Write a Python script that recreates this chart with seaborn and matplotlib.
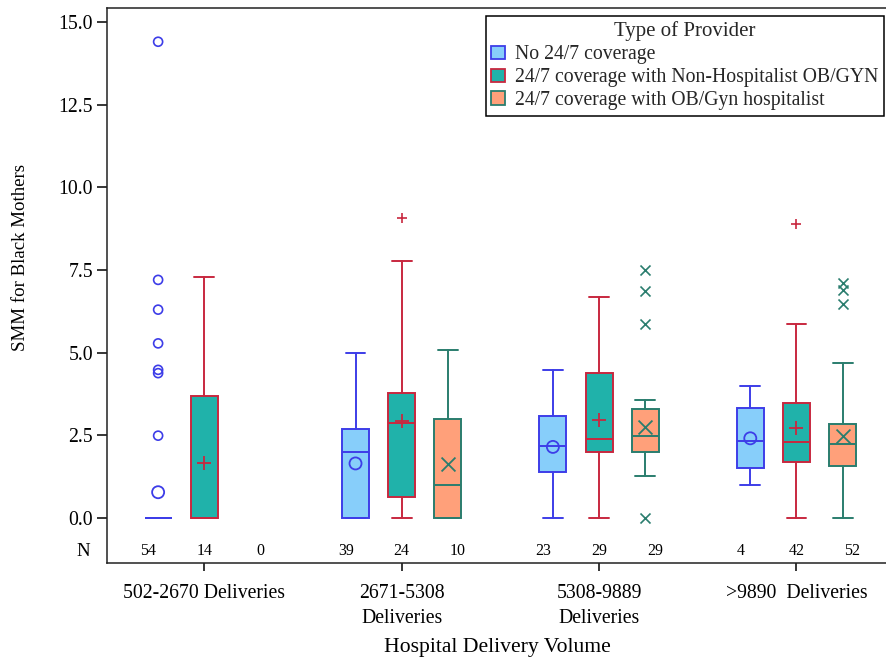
import numpy as np
import pandas as pd
import matplotlib
matplotlib.use("Agg")
import matplotlib.pyplot as plt
import matplotlib.transforms as mtransforms
from matplotlib.patches import Patch
import seaborn as sns

# ---------------- data ----------------
groups = ["502-2670 Deliveries", "2671-5308\nDeliveries",
          "5308-9889\nDeliveries", ">9890  Deliveries"]
providers = ["No 24/7 coverage",
             "24/7 coverage with Non-Hospitalist OB/GYN",
             "24/7 coverage with OB/Gyn hospitalist"]

# No 24/7 coverage
no_whislo = [0.0, 0.0, 0.0, 1.0]
no_q1 = [0.0, 0.0, 1.4, 1.5]
no_med = [0.0, 2.0, 2.18, 2.33]
no_q3 = [0.0, 2.69, 3.08, 3.33]
no_whishi = [0.0, 4.98, 4.48, 3.98]
no_mean = [0.78, 1.65, 2.15, 2.41]
no_out = [[14.4, 7.2, 6.3, 5.28, 4.48, 4.38, 2.49], [], [], []]
no_n = [54, 39, 23, 4]

# 24/7 coverage with Non-Hospitalist OB/GYN
nh_whislo = [0.0, 0.0, 0.0, 0.0]
nh_q1 = [0.0, 0.64, 1.99, 1.69]
nh_med = [0.0, 2.88, 2.39, 2.29]
nh_q3 = [3.69, 3.78, 4.38, 3.47]
nh_whishi = [7.29, 7.78, 6.68, 5.88]
nh_mean = [1.66, 2.94, 2.96, 2.72]
nh_out = [[], [9.08], [], [8.9]]
nh_n = [14, 24, 29, 42]

# 24/7 coverage with OB/Gyn hospitalist
oh_whislo = [np.nan, 0.0, 1.27, 0.0]
oh_q1 = [np.nan, 0.0, 1.99, 1.57]
oh_med = [np.nan, 0.99, 2.47, 2.23]
oh_q3 = [np.nan, 2.99, 3.29, 2.84]
oh_whishi = [np.nan, 5.08, 3.56, 4.68]
oh_mean = [np.nan, 1.63, 2.75, 2.47]
oh_out = [[], [], [7.49, 6.85, 5.88, 0.0], [7.11, 6.9, 6.48]]
oh_n = [0, 10, 29, 52]

# ---------------- style ----------------
sns.set_theme(style="ticks")
plt.rcParams["font.family"] = ["Liberation Serif", "DejaVu Serif"]
plt.rcParams["axes.linewidth"] = 1.1

fills = ["#87CEFA", "#20B2AA", "#FFA07A"]
edges = ["#3D3DE8", "#C8283F", "#2A7D6E"]
mean_markers = ["o", "+", "x"]
mean_sizes = [75, 95, 100]
out_sizes = [42, 60, 52]

stats_sets = [
    (no_whislo, no_q1, no_med, no_q3, no_whishi, no_mean, no_out, no_n),
    (nh_whislo, nh_q1, nh_med, nh_q3, nh_whishi, nh_mean, nh_out, nh_n),
    (oh_whislo, oh_q1, oh_med, oh_q3, oh_whishi, oh_mean, oh_out, oh_n),
]

box_off = [-0.234, 0.0, 0.234]
n_off = [-0.283, 0.0, 0.283]
box_w = 0.137
cap_w = 0.10

fig = plt.figure(figsize=(8.86, 6.61), dpi=100)
ax = fig.add_axes([107 / 886, 1 - 563 / 661, 1.0 - 107 / 886 + 0.003, (563 - 8) / 661])

gx = np.arange(len(groups))

for k, (wl, q1, md, q3, wh, mn, outs, ns) in enumerate(stats_sets):
    stats, pos = [], []
    for g in range(len(groups)):
        if np.isnan(md[g]):
            continue
        stats.append(dict(whislo=wl[g], q1=q1[g], med=md[g], q3=q3[g],
                          whishi=wh[g], fliers=[]))
        pos.append(gx[g] + box_off[k])
    ax.bxp(stats, positions=pos, widths=box_w, capwidths=cap_w,
           patch_artist=True, showfliers=False, showmeans=False,
           boxprops=dict(facecolor=fills[k], edgecolor=edges[k], linewidth=1.4),
           medianprops=dict(color=edges[k], linewidth=1.4),
           whiskerprops=dict(color=edges[k], linewidth=1.4),
           capprops=dict(color=edges[k], linewidth=1.4),
           manage_ticks=False, zorder=2)

    # means
    mdf = pd.DataFrame({"x": gx + box_off[k], "y": mn}).dropna()
    # outliers
    ox, oy = [], []
    for g in range(len(groups)):
        for v in outs[g]:
            ox.append(gx[g] + box_off[k])
            oy.append(v)
    odf = pd.DataFrame({"x": ox, "y": oy})
    if mean_markers[k] == "o":
        sns.scatterplot(data=mdf, x="x", y="y", marker="o", s=mean_sizes[k],
                        color=edges[k], facecolor="none", edgecolor=edges[k],
                        linewidth=1.3, ax=ax, zorder=4, legend=False)
        if len(odf):
            sns.scatterplot(data=odf, x="x", y="y", marker="o", s=out_sizes[k],
                            color=edges[k], facecolor="none", edgecolor=edges[k],
                            linewidth=1.2, ax=ax, zorder=4, legend=False)
    else:
        sns.scatterplot(data=mdf, x="x", y="y", marker=mean_markers[k],
                        s=mean_sizes[k], color=edges[k], linewidth=1.3,
                        ax=ax, zorder=4, legend=False)
        if len(odf):
            sns.scatterplot(data=odf, x="x", y="y", marker=mean_markers[k],
                            s=out_sizes[k], color=edges[k], linewidth=1.2,
                            ax=ax, zorder=4, legend=False)

    # N labels
    for g in range(len(groups)):
        ax.text(gx[g] + n_off[k], -1.0, str(ns[g]), ha="center", va="center",
                fontsize=11.5, color="black")

trans = mtransforms.blended_transform_factory(ax.transAxes, ax.transData)
ax.text(-0.031, -1.0, "N", transform=trans, ha="center", va="center",
        fontsize=13.5, color="black")

ax.set_xlim(-0.493, 3.467)
ax.set_ylim(-1.36, 15.42)
ax.set_yticks([0, 2.5, 5, 7.5, 10, 12.5, 15])
ax.set_yticklabels(["0.0", "2.5", "5.0", "7.5", "10.0", "12.5", "15.0"])
ax.set_xticks(gx)
ax.set_xticklabels(groups, linespacing=1.45)
ax.tick_params(axis="x", length=6, width=1.1, direction="out", pad=9,
               labelsize=14.2, colors="black")
ax.tick_params(axis="y", length=7, width=1.1, direction="out", pad=3,
               labelsize=14.2, colors="black")
for s in ["left", "bottom", "top"]:
    ax.spines[s].set_visible(True)
    ax.spines[s].set_color("#222222")
ax.spines["right"].set_visible(False)

ax.set_xlabel("Hospital Delivery Volume", fontsize=15.6, color="black")
ax.xaxis.set_label_coords(0.5, -0.136)
ax.set_ylabel("SMM for Black Mothers", fontsize=13.6, color="black")
ax.yaxis.set_label_coords(-0.1, 0.551)

handles = [Patch(facecolor=fills[k], edgecolor=edges[k], linewidth=1.3,
                 label=providers[k]) for k in range(3)]
leg = ax.legend(handles=handles, title="Type of Provider", loc="upper right",
                bbox_to_anchor=(884 / 886, 1 - 16 / 661),
                bbox_transform=fig.transFigure, fontsize=14.2,
                title_fontsize=15, frameon=True, fancybox=False,
                framealpha=1, edgecolor="black", borderpad=0.28,
                labelspacing=0.2, handlelength=0.7, handleheight=0.7,
                handletextpad=0.5, borderaxespad=0)
leg.get_frame().set_linewidth(1.1)

fig.savefig("out.png", dpi=100)
